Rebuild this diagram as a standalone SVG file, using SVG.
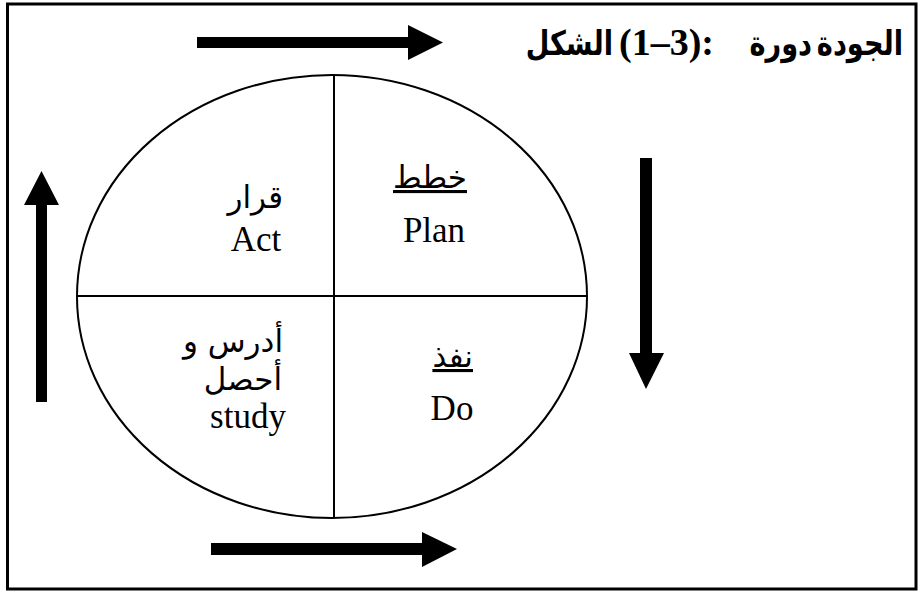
<svg xmlns="http://www.w3.org/2000/svg" width="918" height="593" viewBox="0 0 918 593">
<style>
.frame{fill:none;stroke:#000;stroke-width:3}
.ell{fill:none;stroke:#000;stroke-width:2}
.div{stroke:#000;stroke-width:2}
.arrow{fill:#000}
.en{font-family:"Liberation Serif","Times New Roman",serif;font-size:35px;fill:#000}
.ar{font-family:"DejaVu Sans","Noto Sans",sans-serif;font-size:31px;fill:#000}
.title{font-family:"DejaVu Sans","Noto Sans",sans-serif;font-size:34px;font-weight:bold;fill:#000}
.tnum{font-family:"Liberation Serif","Times New Roman",serif;font-size:38px;font-weight:bold;fill:#000}
</style>
<rect width="918" height="593" fill="#fff"/>
<rect class="frame" x="7.5" y="4" width="908.5" height="585"/>
<g id="title">
<text class="title" transform="translate(613,55) scale(0.8,1)" text-anchor="end">الشكل</text>
<text class="tnum" x="619" y="55">(1–3):</text>
<text class="title" transform="translate(812,55) scale(0.8,1)" text-anchor="end">دورة</text>
<text class="title" transform="translate(903,55) scale(0.8,1)" text-anchor="end">الجودة</text>
</g>
<g id="cycle">
<ellipse class="ell" cx="332" cy="296.5" rx="255" ry="221.5"/>
<line class="div" x1="334" y1="75" x2="334" y2="517"/>
<line class="div" x1="78" y1="296" x2="586" y2="296"/>
</g>
<g id="plan">
<text class="ar" x="467" y="188" text-anchor="end" text-decoration="underline">خطط</text>
<text class="en" x="434" y="242" text-anchor="middle">Plan</text>
</g>
<g id="act">
<text class="ar" x="283" y="208" text-anchor="end">قرار</text>
<text class="en" x="256" y="251" text-anchor="middle">Act</text>
</g>
<g id="study">
<text class="ar" x="283" y="352" text-anchor="end">أدرس و</text>
<text class="ar" x="282" y="390" text-anchor="end">أحصل</text>
<text class="en" x="248" y="428" text-anchor="middle">study</text>
</g>
<g id="do">
<text class="ar" x="473" y="367" text-anchor="end" text-decoration="underline">نفذ</text>
<text class="en" x="452" y="420" text-anchor="middle">Do</text>
</g>
<g id="connectors">
<polygon class="arrow" points="197,37 408,37 408,25 443,42.5 408,60 408,48 197,48"/>
<polygon class="arrow" points="640,158 652,158 652,353 664,353 646,389 629,353 640,353"/>
<polygon class="arrow" points="211,543 422,543 422,532 457,549 422,567 422,555 211,555"/>
<polygon class="arrow" points="36,402 47,402 47,205 59,205 41.5,171 24,205 36,205"/>
</g>
</svg>
